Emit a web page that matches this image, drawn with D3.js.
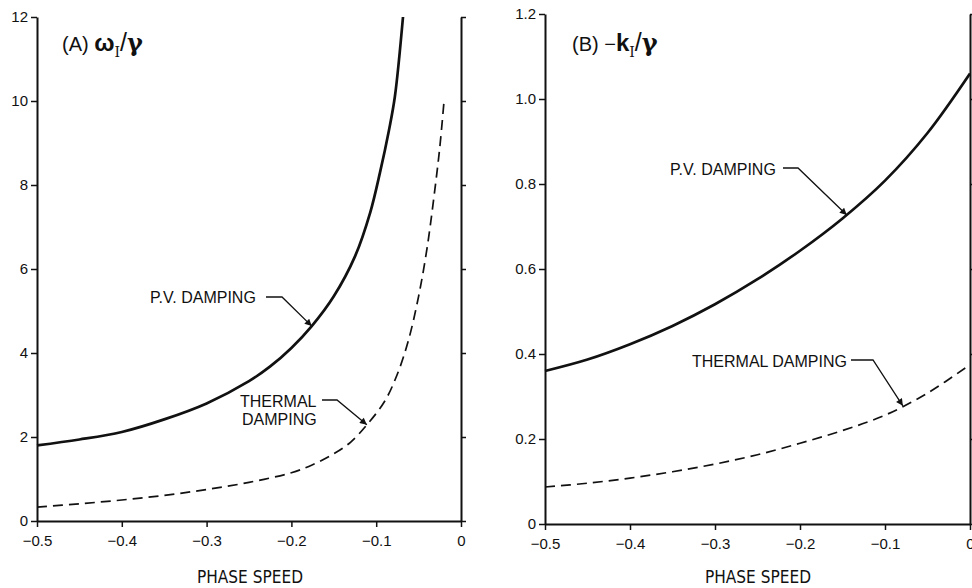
<!DOCTYPE html>
<html>
<head>
<meta charset="utf-8">
<script src="https://cdn.jsdelivr.net/npm/d3@7"></script>
<style>
  body { margin: 0; background: #fff; }
  svg { display: block; }
  .tick text { font-family: "Liberation Sans", Arial, sans-serif; font-size: 15px; fill: #111; }
  .note { font-family: "Liberation Sans", Arial, sans-serif; font-size: 16px; fill: #111; }
  .xtitle { font-family: "Liberation Sans Narrow", "DejaVu Sans Condensed", "Liberation Sans", sans-serif; font-size: 18px; fill: #111; }
</style>
</head>
<body>
<div id="chart"></div>
<script>
(function() {
  // phase speed ticks, shared by both panels
  var xTicks = [-0.5, -0.4, -0.3, -0.2, -0.1, 0];
  var xTickLabels = ['\u22120.5', '\u22120.4', '\u22120.3', '\u22120.2', '\u22120.1', '0'];

  var yTicksA = [0, 2, 4, 6, 8, 10, 12];
  var yTicksB = [0, 0.2, 0.4, 0.6, 0.8, 1.0, 1.2];
  var yTickLabelsB = ['0', '0.2', '0.4', '0.6', '0.8', '1.0', '1.2'];

  // (A) omega_I / gamma
  var pvDampingA = [
    [-0.5, 1.8], [-0.45, 1.94], [-0.4, 2.12], [-0.35, 2.42], [-0.3, 2.8],
    [-0.25, 3.33], [-0.225, 3.68], [-0.2, 4.12], [-0.176, 4.64], [-0.15, 5.35],
    [-0.125, 6.3], [-0.107, 7.35], [-0.0955, 8.3], [-0.085, 9.3], [-0.078, 10.1],
    [-0.0684, 12.0]
  ];
  var thermalDampingA = [
    [-0.5, 0.33], [-0.45, 0.41], [-0.4, 0.5], [-0.35, 0.61], [-0.3, 0.75],
    [-0.25, 0.92], [-0.2, 1.15], [-0.175, 1.34], [-0.15, 1.6], [-0.13, 1.88],
    [-0.111, 2.29], [-0.09, 2.85], [-0.075, 3.5], [-0.062, 4.3], [-0.05, 5.35],
    [-0.04, 6.5], [-0.032, 7.7], [-0.025, 8.9], [-0.02, 10.0]
  ];

  // (B) -k_I / gamma
  var pvDampingB = [
    [-0.5, 0.36], [-0.45, 0.387], [-0.4, 0.423], [-0.35, 0.466], [-0.3, 0.517],
    [-0.25, 0.576], [-0.2, 0.643], [-0.15, 0.719], [-0.1, 0.808], [-0.05, 0.92],
    [0, 1.06]
  ];
  var thermalDampingB = [
    [-0.5, 0.087], [-0.45, 0.096], [-0.4, 0.108], [-0.35, 0.123], [-0.3, 0.141],
    [-0.25, 0.163], [-0.2, 0.19], [-0.15, 0.22], [-0.1, 0.256], [-0.05, 0.308],
    [0, 0.375]
  ];

  var svg = d3.select('#chart')
            .append('svg')
            .attr('width', 972)
            .attr('height', 588);

  svg.append('defs').append('marker')
    .attr('id', 'arrow')
    .attr('viewBox', '0 0 10 10')
    .attr('refX', 10)
    .attr('refY', 5)
    .attr('markerWidth', 10)
    .attr('markerHeight', 7)
    .attr('markerUnits', 'userSpaceOnUse')
    .attr('orient', 'auto')
    .append('path')
    .attr('d', 'M0,0 L10,5 L0,10 Z')
    .attr('fill', '#111');

  function drawPanel(p) {
    var x = d3.scaleLinear().domain([-0.5, 0]).range(p.xRange);
    var y = d3.scaleLinear().domain(p.yDomain).range(p.yRange);
    var g = svg.append('g');

    g.append('g')
      .attr('transform', 'translate(0,' + p.yRange[0] + ')')
      .call(d3.axisBottom(x).tickValues(xTicks).tickSize(6).tickSizeOuter(0)
        .tickFormat(function(d, i) { return xTickLabels[i]; }))
      .call(styleAxis)
      .selectAll('text').attr('dy', '1.05em');

    g.append('g')
      .attr('transform', 'translate(' + p.xRange[0] + ',0)')
      .call(d3.axisLeft(y).tickValues(p.yTicks).tickSize(6).tickSizeOuter(0)
        .tickFormat(function(d, i) { return p.yLabels[i]; }))
      .call(styleAxis);

    g.append('g')
      .attr('transform', 'translate(' + p.xRange[1] + ',0)')
      .call(d3.axisRight(y).tickValues(p.yTicks).tickSize(5).tickSizeOuter(0)
        .tickFormat(''))
      .call(styleAxis);

    var line = d3.line()
      .x(function(d) { return x(d[0]); })
      .y(function(d) { return y(d[1]); })
      .curve(d3.curveCatmullRom.alpha(0.5));

    g.append('path')
      .datum(p.thermal)
      .attr('d', line)
      .attr('fill', 'none')
      .attr('stroke', '#111')
      .attr('stroke-width', 1.7)
      .attr('stroke-dasharray', '10,6');

    g.append('path')
      .datum(p.pv)
      .attr('d', line)
      .attr('fill', 'none')
      .attr('stroke', '#111')
      .attr('stroke-width', 2.7);

    // panel title with subscript
    var t = g.append('text')
      .attr('class', 'note')
      .attr('x', p.title.x)
      .attr('y', p.title.y)
      .style('font-size', '20px');
    t.append('tspan').text(p.title.lead);
    t.append('tspan').style('font-size', '24px').style('font-weight', 'bold').text(p.title.sym);
    t.append('tspan').attr('dy', 6).style('font-family', '"DejaVu Serif", serif')
      .style('font-size', '14px').text('I');
    t.append('tspan').attr('dy', -6).style('font-size', '25px').text('/');
    t.append('tspan').style('font-family', '"DejaVu Serif", serif')
      .style('font-size', '24px').style('font-weight', 'bold').text('\u03b3');

    p.notes.forEach(function(n) {
      n.lines.forEach(function(s, i) {
        g.append('text')
          .attr('class', 'note')
          .attr('x', n.x + (n.indent ? n.indent[i] : 0))
          .attr('y', n.y + i * 18)
          .text(s);
      });
      var tip = [x(n.target[0]), y(n.target[1])];
      g.append('path')
        .attr('d', 'M' + n.from[0] + ',' + n.from[1] + 'L' + n.bend[0] + ',' + n.bend[1] +
          'L' + tip[0] + ',' + tip[1])
        .attr('fill', 'none')
        .attr('stroke', '#111')
        .attr('stroke-width', 1.3)
        .attr('marker-end', 'url(#arrow)');
    });

    g.append('text')
      .attr('class', 'xtitle')
      .attr('x', p.xTitle)
      .attr('y', 583)
      .attr('text-anchor', 'middle')
      .attr('textLength', 106)
      .attr('lengthAdjust', 'spacingAndGlyphs')
      .text('PHASE SPEED');
  }

  function styleAxis(sel) {
    sel.select('.domain').attr('stroke', '#111').attr('stroke-width', 2);
    sel.selectAll('.tick line').attr('stroke', '#111').attr('stroke-width', 1.5);
  }

  drawPanel({
    xRange: [37, 461],
    yRange: [521, 17],
    yDomain: [0, 12],
    yTicks: yTicksA,
    yLabels: yTicksA.map(String),
    pv: pvDampingA,
    thermal: thermalDampingA,
    title: { x: 62, y: 51, lead: '(A) ', sym: '\u03c9' },
    notes: [
      { lines: ['P.V. DAMPING'], x: 150, y: 303, from: [266, 297], bend: [282, 297], target: [-0.176, 4.64] },
      { lines: ['THERMAL', 'DAMPING'], x: 240, y: 407, indent: [0, 2], from: [322, 400], bend: [337, 400], target: [-0.111, 2.29] }
    ],
    xTitle: 250
  });

  drawPanel({
    xRange: [545, 970],
    yRange: [524, 14],
    yDomain: [0, 1.2],
    yTicks: yTicksB,
    yLabels: yTickLabelsB,
    pv: pvDampingB,
    thermal: thermalDampingB,
    title: { x: 572, y: 51, lead: '(B) \u2212', sym: 'k' },
    notes: [
      { lines: ['P.V. DAMPING'], x: 670, y: 175, from: [783, 168], bend: [798, 168], target: [-0.145, 0.727] },
      { lines: ['THERMAL DAMPING'], x: 692, y: 367, from: [851, 360], bend: [873, 360], target: [-0.079, 0.278] }
    ],
    xTitle: 758
  });
}());
</script>
</body>
</html>
